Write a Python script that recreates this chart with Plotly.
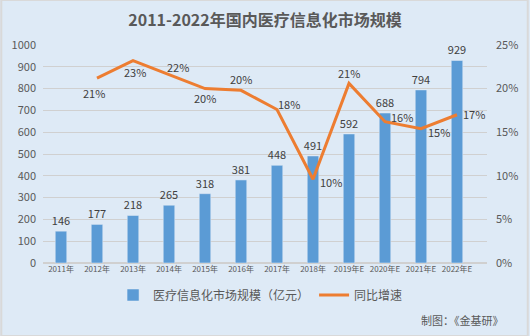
import plotly.graph_objects as go

years = ["2011年", "2012年", "2013年", "2014年", "2015年", "2016年", "2017年", "2018年",
         "2019年E", "2020年E", "2021年E", "2022年E"]
market = [146, 177, 218, 265, 318, 381, 448, 491, 592, 688, 794, 929]
growth_x = years[1:]
growth = [0.212, 0.232, 0.216, 0.200, 0.198, 0.176, 0.096, 0.206, 0.162, 0.154, 0.170]
growth_labels = ["21%", "23%", "22%", "20%", "20%", "18%", "10%", "21%", "16%", "15%", "17%"]
# label offsets in pixels (dx right, dy up)
label_dx = [-3, 2, 9, 0, 0, 12, 18, 0, 17, 18, 17]
label_dy = [-15, -11, 8, -9, 11, 6, -3, 10, 5, -3, 1]

FONT = "Noto Sans CJK SC, Microsoft YaHei, sans-serif"
GREY = "#595959"
L, R, T, B = 42, 41, 45, 73
PW, PH = 530 - L - R, 336 - T - B

fig = go.Figure()
fig.add_trace(go.Bar(
    x=years, y=market, name="医疗信息化市场规模（亿元）",
    marker_color="#5B9BD5", width=0.32,
    text=[str(v) for v in market], textposition="outside", constraintext="none",
    textfont=dict(size=11, color="#404040", family=FONT), cliponaxis=False,
))
fig.add_trace(go.Scatter(
    x=growth_x, y=growth, name="同比增速", yaxis="y2", mode="lines",
    line=dict(color="#ED7D31", width=3),
))

annotations = []
for xv, yv, t, dx, dy in zip(growth_x, growth, growth_labels, label_dx, label_dy):
    annotations.append(dict(x=xv, y=yv, xref="x", yref="y2", text=t, showarrow=False,
                            xshift=dx, yshift=dy,
                            font=dict(size=11, color="#404040", family=FONT)))
annotations.append(dict(text="制图：《金基研》", xref="paper", yref="paper", x=1 + 19 / PW,
                        y=-57 / PH, xanchor="right", yanchor="middle", showarrow=False,
                        font=dict(size=11, color=GREY)))

fig.update_layout(
    width=530, height=336,
    margin=dict(l=L, r=R, t=T, b=B),
    paper_bgcolor="#DEEAF6", plot_bgcolor="#DEEAF6",
    font=dict(family=FONT, color=GREY),
    title=dict(text="<b>2011-2022年国内医疗信息化市场规模</b>", x=0.5, xanchor="center",
               y=0.94, yanchor="middle", font=dict(size=16, color=GREY, family=FONT)),
    xaxis=dict(tickfont=dict(size=8, color=GREY), showgrid=False, showline=False,
               ticks="", tickangle=0),
    yaxis=dict(range=[0, 1000], dtick=100, gridcolor="#D0D0D0", gridwidth=1,
               tickfont=dict(size=11, color=GREY), zeroline=True, zerolinecolor="#D0D0D0",
               ticks="", ticklabelstandoff=6),
    yaxis2=dict(range=[0, 0.25], dtick=0.05, tickformat=".0%", overlaying="y", side="right",
                showgrid=False, zeroline=False, tickfont=dict(size=11, color=GREY),
                ticklabelstandoff=8),
    legend=dict(orientation="h", x=0.49, xanchor="center", y=-32 / PH, yanchor="middle",
                font=dict(size=12, color=GREY), bgcolor="rgba(0,0,0,0)"),
    shapes=[dict(type="rect", xref="paper", yref="paper", x0=-L / PW, x1=1 + R / PW,
                 y0=-B / PH, y1=1 + T / PH, line=dict(color="#D9D9D9", width=2))],
    annotations=annotations,
)

fig.write_html("out.html")
